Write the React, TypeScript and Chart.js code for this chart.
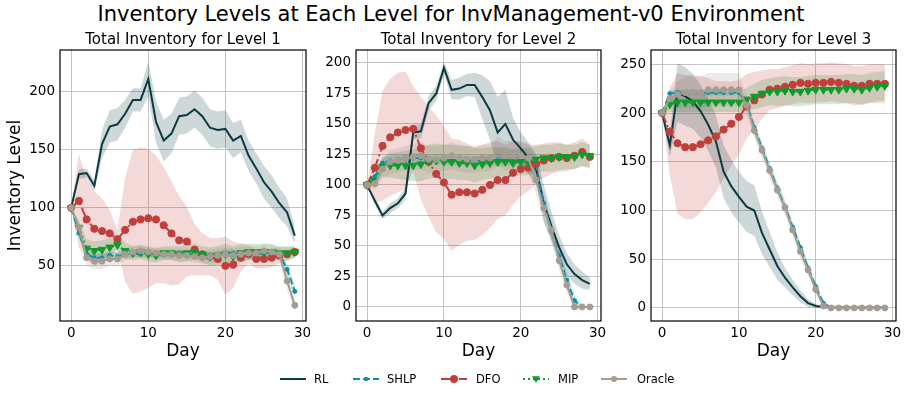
import React, { useEffect, useRef } from 'react';
import { Chart, registerables } from 'chart.js';

Chart.register(...registerables);

const FONT = "'DejaVu Sans', 'Noto Sans', sans-serif";

// ---------------- data ----------------
const DAYS = [0, 1, 2, 3, 4, 5, 6, 7, 8, 9, 10, 11, 12, 13, 14, 15, 16, 17, 18, 19, 20, 21, 22, 23, 24, 25, 26, 27, 28, 29];
const SERIES_NAMES = ['RL', 'SHLP', 'DFO', 'MIP', 'Oracle'];
const PANEL_TITLES = ['Total Inventory for Level 1', 'Total Inventory for Level 2', 'Total Inventory for Level 3'];
const X_TICKS = [0, 10, 20, 30];

// Level 1
const RL_1 = [100, 129, 130, 119, 155, 170, 172, 181, 193, 193, 211, 174, 158, 164, 179, 180, 185, 179, 169, 167, 168, 158, 162, 145, 134, 122, 114, 104, 96, 76];
const RL_1_SD = [0, 4, 4, 5, 12, 14, 14, 12, 10, 10, 15, 18, 18, 17, 16, 16, 16, 16, 16, 16, 16, 15, 14, 13, 13, 14, 14, 13, 12, 7];
const SHLP_1 = [100, 78, 60, 57, 57, 59, 58, 60, 61, 60, 61, 60, 60, 60, 61, 60, 60, 59, 59, 60, 61, 61, 60, 60, 60, 61, 61, 60, 47, 28];
const SHLP_1_SD = [0, 3, 3, 3, 3, 3, 3, 3, 3, 3, 3, 3, 3, 3, 3, 3, 3, 3, 3, 3, 3, 3, 3, 3, 3, 3, 3, 3, 5, 6];
const DFO_1 = [100, 106, 90, 82, 80, 78, 73, 81, 88, 90, 91, 90, 85, 78, 72, 71, 64, 60, 58, 56, 50, 51, 57, 60, 56, 56, 57, 59, 60, 62];
const DFO_1_SD = [0, 40, 35, 32, 28, 20, 8, 45, 62, 62, 60, 55, 50, 45, 38, 30, 22, 18, 16, 18, 25, 20, 12, 8, 8, 8, 8, 7, 6, 5];
const MIP_1 = [100, 83, 65, 63, 64, 66, 68, 63, 61, 62, 60, 59, 61, 61, 60, 61, 62, 60, 58, 59, 60, 58, 61, 62, 62, 62, 62, 61, 61, 62];
const MIP_1_SD = [0, 6, 8, 8, 8, 8, 8, 7, 6, 6, 6, 6, 6, 6, 7, 7, 7, 7, 8, 8, 9, 9, 8, 7, 7, 7, 7, 6, 6, 5];
const ORACLE_1 = [100, 83, 57, 54, 54, 56, 56, 60, 62, 63, 62, 61, 60, 60, 59, 59, 58, 57, 58, 59, 60, 59, 60, 61, 61, 63, 62, 60, 37, 16];
const ORACLE_1_SD = [0, 5, 7, 7, 7, 6, 6, 5, 5, 5, 5, 5, 5, 5, 5, 5, 5, 5, 6, 6, 6, 6, 6, 6, 6, 6, 6, 6, 8, 4];

// Level 2
const RL_2 = [100, 87, 75, 81, 85, 93, 143, 144, 167, 175, 196, 178, 179, 182, 182, 172, 161, 143, 150, 137, 130, 122, 113, 85, 66, 49, 35, 27, 22, 19];
const RL_2_SD = [0, 3, 3, 4, 4, 5, 6, 6, 6, 6, 5, 8, 9, 9, 10, 18, 24, 29, 28, 18, 13, 13, 12, 15, 12, 10, 9, 8, 7, 5];
const SHLP_2 = [100, 107, 118, 120, 121, 121, 122, 122, 121, 121, 121, 120, 120, 120, 120, 120, 120, 120, 120, 120, 119, 118, 116, 85, 62, 42, 22, 5, 0, 0];
const SHLP_2_SD = [0, 3, 4, 4, 4, 4, 4, 4, 4, 4, 4, 4, 4, 4, 4, 4, 4, 4, 4, 4, 4, 4, 5, 6, 7, 7, 7, 5, 2, 0];
const DFO_2 = [100, 114, 132, 139, 143, 145, 146, 130, 119, 109, 102, 92, 94, 94, 93, 96, 100, 104, 104, 110, 113, 114, 117, 120, 122, 123, 122, 124, 127, 123];
const DFO_2_SD = [0, 28, 45, 48, 49, 48, 35, 42, 45, 48, 46, 46, 43, 40, 38, 37, 35, 32, 29, 26, 22, 19, 16, 14, 13, 12, 11, 11, 11, 10];
const MIP_2 = [100, 104, 115, 116, 116, 116, 116, 117, 119, 120, 119, 119, 118, 118, 116, 117, 118, 119, 119, 118, 119, 119, 121, 122, 122, 123, 123, 123, 125, 124];
const MIP_2_SD = [0, 4, 8, 10, 11, 12, 13, 14, 14, 14, 14, 14, 14, 14, 14, 13, 13, 12, 12, 11, 11, 11, 11, 11, 11, 11, 10, 10, 10, 9];
const ORACLE_2 = [100, 101, 113, 119, 120, 122, 123, 124, 121, 121, 122, 124, 122, 121, 121, 122, 122, 128, 124, 124, 124, 122, 104, 81, 63, 38, 18, 0, 0, 0];
const ORACLE_2_SD = [0, 5, 8, 10, 10, 10, 11, 11, 11, 11, 11, 11, 11, 11, 11, 11, 11, 12, 12, 12, 12, 12, 12, 12, 10, 8, 6, 3, 0, 0];

// Level 3
const RL_3 = [200, 167, 221, 217, 212, 202, 188, 171, 140, 125, 114, 104, 100, 77, 60, 43, 31, 21, 12, 5, 2, 1, 0.5, 0.5, 0.5, 0.5, 0.5, 0.5, 0.5, 0.5];
const RL_3_SD = [0, 12, 30, 30, 28, 27, 27, 27, 27, 27, 26, 26, 26, 22, 18, 14, 10, 8, 6, 4, 2, 1, 0, 0, 0, 0, 0, 0, 0, 0];
const SHLP_3 = [200, 220, 221, 221, 221, 221, 221, 221, 221, 221, 221, 210, 185, 164, 143, 123, 104, 83, 62, 41, 22, 5, 0, 0, 0, 0, 0, 0, 0, 0];
const SHLP_3_SD = [0, 3, 3, 3, 3, 3, 3, 3, 3, 3, 3, 4, 5, 5, 5, 5, 5, 5, 5, 5, 4, 3, 0, 0, 0, 0, 0, 0, 0, 0];
const DFO_3 = [200, 181, 169, 165, 165, 168, 172, 176, 183, 189, 196, 207, 213, 219, 224, 225, 227, 229, 231, 230, 231, 231, 232, 231, 230, 228, 228, 230, 230, 230];
const DFO_3_SD = [0, 45, 72, 74, 74, 70, 64, 57, 50, 43, 38, 33, 29, 25, 21, 20, 20, 20, 20, 20, 20, 20, 20, 20, 20, 20, 20, 20, 20, 20];
const MIP_3 = [200, 209, 211, 211, 211, 211, 211, 211, 211, 211, 211, 214, 217, 220, 222, 222, 223, 222, 222, 223, 224, 224, 224, 224, 225, 225, 224, 226, 227, 228];
const MIP_3_SD = [0, 8, 10, 10, 10, 10, 10, 10, 10, 10, 10, 12, 13, 14, 14, 15, 15, 15, 15, 15, 15, 15, 15, 15, 15, 15, 15, 15, 15, 15];
const ORACLE_3 = [200, 215, 219, 221, 221, 221, 224, 224, 224, 224, 224, 208, 182, 162, 141, 121, 103, 80, 58, 39, 19, 2, 0, 0, 0, 0, 0, 0, 0, 0];
const ORACLE_3_SD = [0, 8, 14, 16, 16, 16, 17, 17, 17, 17, 17, 10, 8, 8, 8, 8, 8, 7, 7, 6, 5, 2, 0, 0, 0, 0, 0, 0, 0, 0];

const MEANS = [
  [RL_1, SHLP_1, DFO_1, MIP_1, ORACLE_1],
  [RL_2, SHLP_2, DFO_2, MIP_2, ORACLE_2],
  [RL_3, SHLP_3, DFO_3, MIP_3, ORACLE_3],
];
const SDS = [
  [RL_1_SD, SHLP_1_SD, DFO_1_SD, MIP_1_SD, ORACLE_1_SD],
  [RL_2_SD, SHLP_2_SD, DFO_2_SD, MIP_2_SD, ORACLE_2_SD],
  [RL_3_SD, SHLP_3_SD, DFO_3_SD, MIP_3_SD, ORACLE_3_SD],
];

// ---------------- styles / layout ----------------
const STYLES = [
  { color: '#0b3a42', band: 'rgba(11,58,66,0.2)', dash: [] as number[], pointStyle: 'circle', radius: 0, rotation: 0 },
  { color: '#0f8fa6', band: 'rgba(15,143,166,0.2)', dash: [7, 3], pointStyle: 'circle', radius: 2, rotation: 0 },
  { color: '#c13f3b', band: 'rgba(193,63,59,0.2)', dash: [10, 3, 2, 3], pointStyle: 'circle', radius: 3.6, rotation: 0 },
  { color: '#0f9a2c', band: 'rgba(15,154,44,0.2)', dash: [2, 3], pointStyle: 'triangle', radius: 4.5, rotation: 180 },
  { color: '#a59c91', band: 'rgba(165,156,145,0.2)', dash: [] as number[], pointStyle: 'circle', radius: 3, rotation: 0 },
];

const AXES = [
  { yMin: 2.5, yMax: 236, yStep: 50 },
  { yMin: -11.5, yMax: 210.6, yStep: 25 },
  { yMin: -13.4, yMax: 264.7, yStep: 50 },
];
const BOXES = [
  { left: 0, axisW: 60, plotW: 246 },
  { left: 316, axisW: 40, plotW: 245 },
  { left: 611, axisW: 40, plotW: 245 },
];
const CANVAS_TOP = 20;
const CANVAS_H = 345;
const RIGHT_PAD = 14;

const framePlugin = {
  id: 'frame',
  afterDraw(chart: any) {
    const { ctx, chartArea: a } = chart;
    ctx.save();
    ctx.strokeStyle = '#000';
    ctx.lineWidth = 1.2;
    ctx.strokeRect(a.left, a.top, a.right - a.left, a.bottom - a.top);
    ctx.restore();
  },
};

function buildConfig(p: number): any {
  const means = MEANS[p];
  const sds = SDS[p];
  const bands: any[] = [];
  STYLES.forEach((s, i) => {
    bands.push({
      label: SERIES_NAMES[i] + ' +sd',
      data: DAYS.map((d, j) => ({ x: d, y: means[i][j] + sds[i][j] })),
      fill: '+1',
      backgroundColor: s.band,
      borderColor: 'rgba(0,0,0,0)',
      borderWidth: 0,
      pointRadius: 0,
      tension: 0,
      order: 20 + i,
    });
    bands.push({
      label: SERIES_NAMES[i] + ' -sd',
      data: DAYS.map((d, j) => ({ x: d, y: means[i][j] - sds[i][j] })),
      fill: false,
      borderColor: 'rgba(0,0,0,0)',
      borderWidth: 0,
      pointRadius: 0,
      tension: 0,
      order: 20 + i,
    });
  });
  const lines = STYLES.map((s, i) => ({
    label: SERIES_NAMES[i],
    data: DAYS.map((d, j) => ({ x: d, y: means[i][j] })),
    fill: false,
    borderColor: s.color,
    backgroundColor: s.color,
    borderWidth: 2,
    borderDash: s.dash,
    pointStyle: s.pointStyle,
    pointRadius: s.radius,
    pointRotation: s.rotation,
    pointBackgroundColor: s.color,
    pointBorderColor: s.color,
    pointBorderWidth: 1,
    tension: 0,
    order: 10 - i,
  }));
  const ax = AXES[p];
  const box = BOXES[p];
  return {
    type: 'line',
    data: { datasets: [...bands, ...lines] },
    plugins: [framePlugin],
    options: {
      animation: false,
      responsive: false,
      maintainAspectRatio: false,
      events: [],
      devicePixelRatio: 1,
      layout: { padding: { left: 0, right: RIGHT_PAD, top: 0, bottom: 0 } },
      plugins: {
        legend: { display: false },
        tooltip: { enabled: false },
        filler: { drawTime: 'beforeDatasetsDraw' },
        title: {
          display: true,
          fullSize: false,
          align: 'center',
          text: PANEL_TITLES[p],
          color: '#000',
          font: { family: FONT, size: 15, weight: 'normal', lineHeight: 1.2 },
          padding: { top: 11, bottom: 1 },
        },
      },
      scales: {
        x: {
          type: 'linear',
          min: -1.45,
          max: 30.45,
          afterBuildTicks: (scale: any) => {
            scale.ticks = X_TICKS.map((v) => ({ value: v }));
          },
          ticks: {
            stepSize: 10,
            includeBounds: false,
            color: '#000',
            padding: 4,
            maxRotation: 0,
            font: { family: FONT, size: 13.5 },
          },
          grid: { color: '#c4c4c4', lineWidth: 1, drawTicks: false },
          border: { display: false },
          title: {
            display: true,
            text: 'Day',
            color: '#000',
            font: { family: FONT, size: 17 },
            padding: { top: 0, bottom: 3 },
          },
          afterFit: (scale: any) => {
            scale.height = CANVAS_H - (321 - CANVAS_TOP);
          },
        },
        y: {
          type: 'linear',
          min: ax.yMin,
          max: ax.yMax,
          ticks: {
            stepSize: ax.yStep,
            includeBounds: false,
            color: '#000',
            padding: 5,
            font: { family: FONT, size: 13.5 },
          },
          grid: { color: '#c4c4c4', lineWidth: 1, drawTicks: false },
          border: { display: false },
          title: {
            display: p === 0,
            text: 'Inventory Level',
            color: '#000',
            font: { family: FONT, size: 17 },
            padding: { top: 5, bottom: 0 },
          },
          afterFit: (scale: any) => {
            scale.width = box.axisW;
          },
        },
      },
    },
  };
}

function LegendItem({ i, lineX, textX }: { i: number; lineX: number; textX: number }) {
  const s = STYLES[i];
  const w = 26;
  const cy = 7;
  const cx = w / 2;
  let marker: any = null;
  if (i === 1) marker = <circle cx={cx} cy={cy} r={2.2} fill={s.color} />;
  if (i === 2) marker = <circle cx={cx} cy={cy} r={4} fill={s.color} />;
  if (i === 3) marker = <polygon points={`${cx - 4},${cy - 2.8} ${cx + 4},${cy - 2.8} ${cx},${cy + 4}`} fill={s.color} />;
  if (i === 4) marker = <circle cx={cx} cy={cy} r={3} fill={s.color} />;
  return (
    <>
      <svg
        width={w}
        height={14}
        style={{ position: 'absolute', left: lineX, top: 372.3 }}
      >
        <line
          x1={0}
          y1={cy}
          x2={w}
          y2={cy}
          stroke={s.color}
          strokeWidth={2}
          strokeDasharray={s.dash.length ? s.dash.join(',') : undefined}
        />
        {marker}
      </svg>
      <div
        style={{
          position: 'absolute',
          left: textX,
          top: 372,
          fontFamily: FONT,
          fontSize: 11.5,
          lineHeight: '14px',
          color: '#000',
          whiteSpace: 'nowrap',
        }}
      >
        {SERIES_NAMES[i]}
      </div>
    </>
  );
}

const LEGEND_LINE_X = [280, 353, 441, 523, 601];
const LEGEND_TEXT_X = [314, 387, 476, 558, 637];

export default function App() {
  const refs = [useRef<HTMLCanvasElement>(null), useRef<HTMLCanvasElement>(null), useRef<HTMLCanvasElement>(null)];

  useEffect(() => {
    const charts = refs.map((r, p) => new Chart(r.current as HTMLCanvasElement, buildConfig(p)));
    return () => charts.forEach((c) => c.destroy());
  }, []);

  return (
    <div
      style={{
        position: 'absolute',
        left: 0,
        top: 0,
        width: 908,
        height: 398,
        overflow: 'hidden',
        background: '#fff',
      }}
    >
      <div
        style={{
          position: 'absolute',
          left: -3,
          top: 2,
          width: 908,
          textAlign: 'center',
          fontFamily: FONT,
          fontSize: 21,
          lineHeight: '25px',
          color: '#000',
          whiteSpace: 'nowrap',
        }}
      >
        Inventory Levels at Each Level for InvManagement-v0 Environment
      </div>
      {BOXES.map((b, p) => {
        const w = b.axisW + b.plotW + RIGHT_PAD;
        return (
          <canvas
            key={p}
            ref={refs[p]}
            width={w}
            height={CANVAS_H}
            style={{ position: 'absolute', left: b.left, top: CANVAS_TOP, width: w, height: CANVAS_H }}
          />
        );
      })}
      {SERIES_NAMES.map((_, i) => (
        <LegendItem key={i} i={i} lineX={LEGEND_LINE_X[i]} textX={LEGEND_TEXT_X[i]} />
      ))}
    </div>
  );
}
